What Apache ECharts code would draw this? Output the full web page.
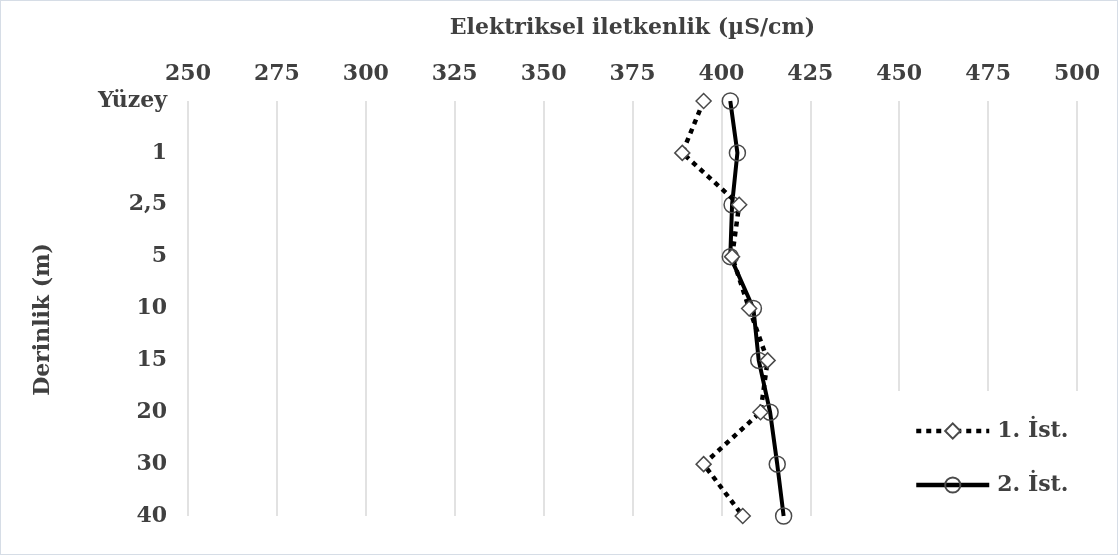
<!DOCTYPE html>
<html>
<head>
<meta charset="utf-8">
<script src="https://cdn.jsdelivr.net/npm/echarts@6/dist/echarts.min.js"></script>
<style>
html,body{margin:0;padding:0;background:#fff;}
#c{width:1116px;height:553px;border:1px solid #d6dde6;}
</style>
</head>
<body>
<div id="c"></div>
<script>
var categories = ['Yüzey', '1', '2,5', '5', '10', '15', '20', '30', '40'];
var station1 = [395, 389, 405, 403, 407.8, 413, 411, 395, 406];
var station2 = [402.5, 404.5, 403, 402.5, 409, 410.5, 413.7, 415.7, 417.5];
var seriesNames = ['1. İst.', '2. İst.'];
var xTitle = 'Elektriksel iletkenlik (µS/cm)';
var yTitle = 'Derinlik (m)';

var font = 'DejaVu Serif';
var txt = '#404040';
var chart = echarts.init(document.getElementById('c'));
chart.setOption({
  animation: false,
  backgroundColor: '#fff',
  grid: { left: 187, right: 40, top: 100, bottom: 38 },
  xAxis: {
    type: 'value', position: 'top', min: 250, max: 500, interval: 25,
    name: xTitle, nameLocation: 'middle', nameGap: 62,
    nameTextStyle: { fontFamily: font, fontWeight: 'bold', fontSize: 22, color: txt },
    axisLine: { show: false }, axisTick: { show: false },
    axisLabel: { fontFamily: font, fontWeight: 'bold', fontSize: 22, color: txt, margin: 16 },
    splitLine: { show: true, lineStyle: { color: '#d9d9d9', width: 1.5 } }
  },
  yAxis: {
    type: 'category', data: categories, inverse: true, boundaryGap: false,
    name: yTitle, nameLocation: 'middle', nameGap: 134, nameRotate: 90,
    nameTextStyle: { fontFamily: font, fontWeight: 'bold', fontSize: 22, color: txt, padding: [0, 22, 0, 0] },
    axisLine: { show: false }, axisTick: { show: false }, splitLine: { show: false },
    axisLabel: { fontFamily: font, fontWeight: 'bold', fontSize: 22, color: txt, margin: 21 }
  },
  legend: {
    orient: 'vertical', left: 893, top: 390,
    backgroundColor: '#fff', padding: [29, 15, 23, 20],
    itemWidth: 73, itemHeight: 19, itemGap: 32,
    lineStyle: { width: 4.5 },
    textStyle: { fontFamily: font, fontWeight: 'bold', fontSize: 22, color: txt, padding: [0, 0, 0, 3] },
    data: seriesNames
  },
  series: [
    {
      name: seriesNames[0], type: 'line', data: station1, z: 3,
      symbol: 'diamond', symbolSize: 15,
      lineStyle: { color: '#000', width: 4.5, type: [5, 5] },
      itemStyle: { color: '#fff', borderColor: '#4a4a4a', borderWidth: 1.5 }
    },
    {
      name: seriesNames[1], type: 'line', data: station2, z: 2,
      symbol: 'circle', symbolSize: 16,
      lineStyle: { color: '#000', width: 4 },
      itemStyle: { color: 'rgba(255,255,255,0)', borderColor: '#4a4a4a', borderWidth: 1.5 }
    }
  ]
});
</script>
</body>
</html>
